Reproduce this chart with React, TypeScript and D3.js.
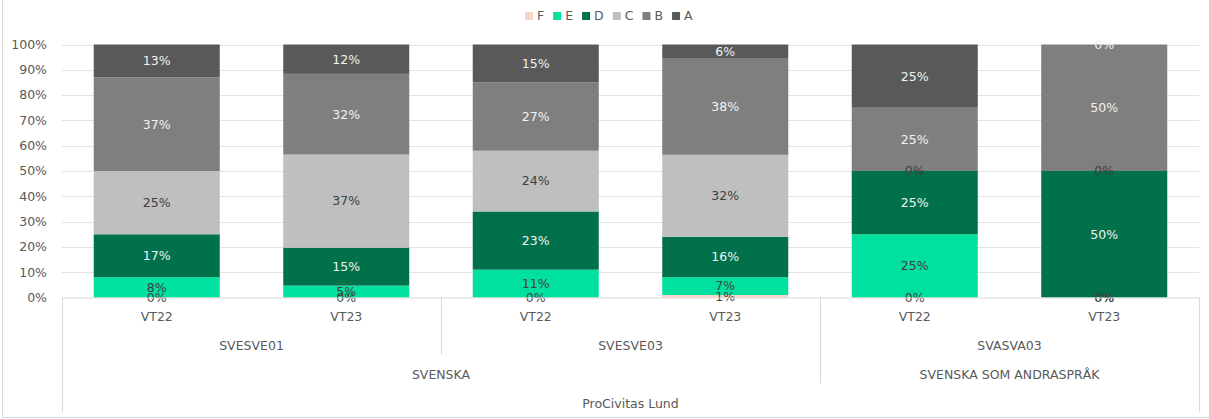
import React, { useEffect, useRef } from "react";
import * as d3 from "d3";

// grades from bottom of the stack to the top
const grades = ["F", "E", "D", "C", "B", "A"];
const gradeColors = ["#f8d5c8", "#00e09e", "#00714b", "#bfbfbf", "#7f7f7f", "#595959"];
const labelColors = ["#404040", "#404040", "#f2f2f2", "#404040", "#f2f2f2", "#f2f2f2"];

// axis levels
const terms = ["VT22", "VT23", "VT22", "VT23", "VT22", "VT23"];
const courses = ["SVESVE01", "SVESVE03", "SVASVA03"];
const courseOfBar = [0, 0, 1, 1, 2, 2];
const subjects = ["SVENSKA", "SVENSKA SOM ANDRASPRÅK"];
const subjectOfCourse = [0, 0, 1];
const school = "ProCivitas Lund";

// share in percent per grade, one value per bar
const F = [0, 0, 0, 1, 0, 0];
const E = [8, 4.7, 11, 7, 25, 0];
const D = [17, 15, 23, 16, 25, 50];
const C = [25, 36.8, 24, 32.4, 0, 0];
const B = [37, 31.9, 27, 38, 25, 50];
const A = [13, 11.6, 15, 5.6, 25, 0];

const yTicks = [0, 10, 20, 30, 40, 50, 60, 70, 80, 90, 100];

const App = () => {
  const ref = useRef<SVGSVGElement>(null);

  useEffect(() => {
    const width = 1209;
    const height = 419;
    const left = 62;
    const right = 1199;
    const top = 44.5;
    const bottom = 297.5;
    const rowH = 28.7;
    const font = "DejaVu Sans, sans-serif";
    const textColor = "#595959";
    const lineColor = "#d9d9d9";

    const svg = d3.select(ref.current);
    svg.selectAll("*").remove();
    svg.attr("width", width).attr("height", height).style("font-family", font);

    const series = [F, E, D, C, B, A];
    const rows = terms.map((t, i) => {
      const r: any = { i };
      grades.forEach((g, k) => (r[g] = series[k][i] / 100));
      return r;
    });
    const stacked = d3.stack<any>().keys(grades)(rows);

    const x = d3
      .scaleBand<number>()
      .domain(d3.range(terms.length))
      .range([left, right])
      .paddingInner(0.335)
      .paddingOuter(0.1675);
    const catStart = (i: number) => left + i * ((right - left) / terms.length);
    const y = d3.scaleLinear().domain([0, 1]).range([bottom, top]);

    // chart frame
    svg.append("line").attr("x1", 2.5).attr("x2", 2.5).attr("y1", 0).attr("y2", 417.5)
      .attr("stroke", lineColor);
    svg.append("line").attr("x1", 2.5).attr("x2", width).attr("y1", 417.5).attr("y2", 417.5)
      .attr("stroke", lineColor);

    // gridlines
    svg.append("g")
      .selectAll("line")
      .data(yTicks.slice(1))
      .join("line")
      .attr("x1", left)
      .attr("x2", right)
      .attr("y1", (d) => Math.round(y(d / 100)) + 0.5)
      .attr("y2", (d) => Math.round(y(d / 100)) + 0.5)
      .attr("stroke", "#e3e3e3");

    // y labels
    svg.append("g")
      .selectAll("text")
      .data(yTicks)
      .join("text")
      .attr("x", 47)
      .attr("y", (d) => y(d / 100))
      .attr("dy", "0.35em")
      .attr("text-anchor", "end")
      .attr("font-size", 12.5)
      .attr("fill", textColor)
      .text((d) => d + "%");

    // bars
    const barG = svg.append("g");
    stacked.forEach((s, k) => {
      barG.append("g")
        .attr("fill", gradeColors[k])
        .selectAll("rect")
        .data(s)
        .join("rect")
        .attr("x", (d: any) => x(d.data.i)!)
        .attr("width", x.bandwidth())
        .attr("y", (d) => y(d[1]))
        .attr("height", (d) => y(d[0]) - y(d[1]));
    });

    // data labels
    const labG = svg.append("g");
    stacked.forEach((s, k) => {
      labG.append("g")
        .selectAll("text")
        .data(s)
        .join("text")
        .attr("x", (d: any) => x(d.data.i)! + x.bandwidth() / 2)
        .attr("y", (d) => y((d[0] + d[1]) / 2))
        .attr("dy", "0.35em")
        .attr("text-anchor", "middle")
        .attr("font-size", 12.5)
        .attr("fill", labelColors[k])
        .text((d) => Math.round((d[1] - d[0]) * 100) + "%");
    });

    // category axis (multi-level)
    const axG = svg.append("g").attr("stroke", lineColor).attr("fill", "none");
    axG.append("line").attr("x1", left).attr("x2", right).attr("y1", bottom + 0.5).attr("y2", bottom + 0.5);
    axG.append("line").attr("x1", left + 0.5).attr("x2", left + 0.5).attr("y1", bottom).attr("y2", bottom + rowH * 4);
    axG.append("line").attr("x1", right + 0.5).attr("x2", right + 0.5).attr("y1", bottom).attr("y2", bottom + rowH * 4);
    // course boundaries
    for (let i = 1; i < terms.length; i++) {
      if (courseOfBar[i] === courseOfBar[i - 1]) continue;
      const newSubject = subjectOfCourse[courseOfBar[i]] !== subjectOfCourse[courseOfBar[i - 1]];
      const xx = Math.round(catStart(i)) + 0.5;
      axG.append("line").attr("x1", xx).attr("x2", xx).attr("y1", bottom)
        .attr("y2", bottom + rowH * (newSubject ? 3 : 2));
    }

    const txt = svg.append("g")
      .attr("font-size", 12.5)
      .attr("fill", textColor)
      .attr("text-anchor", "middle");
    const rowY = (r: number) => bottom + 19 + r * 29;

    txt.selectAll("text.term")
      .data(terms)
      .join("text")
      .attr("class", "term")
      .attr("x", (d, i) => x(i)! + x.bandwidth() / 2)
      .attr("y", rowY(0))
      .attr("dy", "0.35em")
      .text((d) => d);

    const spanCenter = (idx: number[]) =>
      (catStart(d3.min(idx)!) + catStart(d3.max(idx)! + 1)) / 2;

    txt.selectAll("text.course")
      .data(courses)
      .join("text")
      .attr("class", "course")
      .attr("x", (d, c) => spanCenter(d3.range(terms.length).filter((i) => courseOfBar[i] === c)))
      .attr("y", rowY(1))
      .attr("dy", "0.35em")
      .text((d) => d);

    txt.selectAll("text.subject")
      .data(subjects)
      .join("text")
      .attr("class", "subject")
      .attr("x", (d, s) =>
        spanCenter(d3.range(terms.length).filter((i) => subjectOfCourse[courseOfBar[i]] === s))
      )
      .attr("y", rowY(2))
      .attr("dy", "0.35em")
      .text((d) => d);

    txt.append("text")
      .attr("x", (left + right) / 2)
      .attr("y", rowY(3))
      .attr("dy", "0.35em")
      .text(school);

    // legend
    const legG = svg.append("g").attr("font-size", 12.5).attr("fill", textColor);
    const gap = 9;
    let cx = 0;
    grades.forEach((g, k) => {
      const item = legG.append("g").attr("transform", `translate(${cx},0)`);
      item.append("rect").attr("x", 0).attr("y", -4).attr("width", 8).attr("height", 8)
        .attr("fill", gradeColors[k]);
      const t = item.append("text").attr("x", 12).attr("dy", "0.35em").text(g);
      const w = (t.node() as SVGTextElement).getComputedTextLength();
      cx += 12 + w + gap;
    });
    const total = cx - gap;
    legG.attr("transform", `translate(${Math.round(609 - total / 2)},16)`);
  }, []);

  return (
    <div style={{ position: "absolute", left: 0, top: 0 }}>
      <svg ref={ref}></svg>
    </div>
  );
};

export default App;
